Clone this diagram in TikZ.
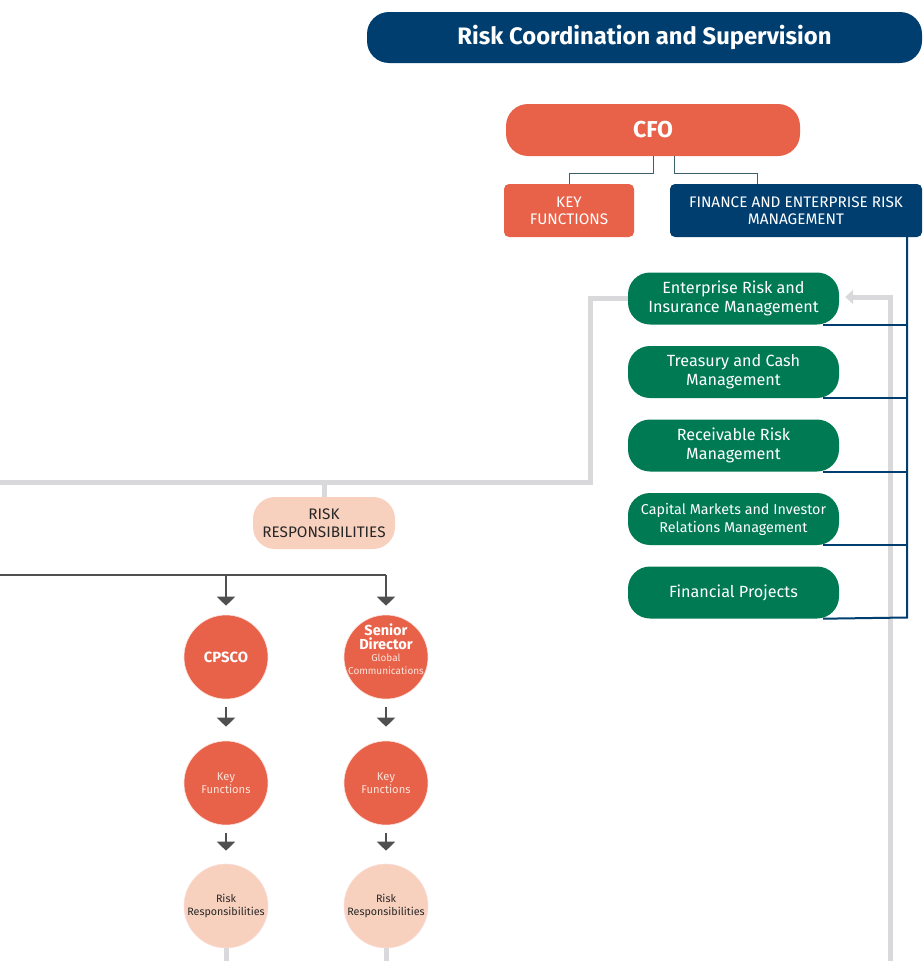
\documentclass[tikz,border=0pt]{standalone}
\usepackage{fontspec}
\setmainfont{Fira Sans}
\usetikzlibrary{arrows.meta}
\definecolor{navy}{RGB}{0,62,112}
\definecolor{corange}{RGB}{232,98,74}
\definecolor{cgreen}{RGB}{0,122,83}
\definecolor{peach}{RGB}{248,208,190}
\definecolor{lgray}{RGB}{217,217,219}
\definecolor{dgray}{RGB}{80,80,80}
\definecolor{tealline}{RGB}{60,95,105}
\definecolor{paletext}{RGB}{252,228,218}
\begin{document}
\begin{tikzpicture}[x=1pt,y=-1pt,
  rbox/.style={draw=none, inner sep=0pt, align=center, rounded corners=#1},
  titlebox/.style={rbox=22pt, fill=navy, text=white, minimum width=555pt, minimum height=51pt,
    font=\bfseries\fontsize{23.8}{28}\selectfont},
  cfobox/.style={rbox=22pt, fill=corange, text=white, minimum width=294pt, minimum height=52pt,
    font=\bfseries\fontsize{23}{28}\selectfont},
  smallbox/.style={rbox=5pt, minimum height=53pt, text=white, font=\fontsize{15.3}{17}\selectfont},
  greenbox/.style={rbox=22pt, fill=cgreen, text=white, minimum width=211pt, minimum height=52pt,
    font=\fontsize{16.2}{19}\selectfont},
  peachbox/.style={rbox=22pt, fill=peach, text=black!85, minimum width=142pt, minimum height=52pt,
    font=\fontsize{15.3}{18}\selectfont},
  circ/.style={circle, draw=white!80!corange, line width=0.6pt, minimum size=84pt, inner sep=0pt, align=center},
  ocirc/.style={circ, fill=corange},
  pcirc/.style={circ, fill=peach, text=black!85, font=\fontsize{10.7}{13}\selectfont},
  ctext/.style={inner sep=0pt, align=center},
  conn/.style={draw=tealline, line width=1pt},
  blueline/.style={draw=navy, line width=2pt},
  gline/.style={draw=lgray, line width=5pt},
  dline/.style={draw=dgray, line width=1.5pt},
  darr/.style={dline, -{Triangle[width=18pt,length=9pt]}}
]
\useasboundingbox (0,0) rectangle (922,961);

% boxes
\node[titlebox] (title) at (644.5,37.5) {Risk Coordination and Supervision};
\node[cfobox] (cfo) at (653,130) {CFO};
\node[smallbox, fill=corange, minimum width=130pt] (key) at (569,210.5) {KEY\\FUNCTIONS};
\node[smallbox, fill=navy, minimum width=252pt] (fin) at (796,210.5) {FINANCE AND ENTERPRISE RISK\\MANAGEMENT};

% gray lines (behind)
\draw[gline] (628,298) -- (590,298) -- (590,482) -- (0,482);
\node[peachbox] (rr) at (324,523) {RISK\\RESPONSIBILITIES};
\draw[gline] (rr.north) -- (rr.north |- 0,482);

\node[greenbox] (g1) at (733.5,298.5) {Enterprise Risk and\\Insurance Management};
\node[greenbox] (g2) at (733.5,372) {Treasury and Cash\\Management};
\node[greenbox] (g3) at (733.5,445.5) {Receivable Risk\\Management};
\node[greenbox, font=\fontsize{14.3}{18}\selectfont] (g4) at (733.5,519) {Capital Markets and Investor\\Relations Management};
\node[greenbox] (g5) at (733.5,592.5) {Financial Projects};

\draw[gline, -{Triangle[width=14pt,length=8pt]}] (890,961) -- (890,297) -- ([xshift=6pt]g1.east |- 0,297);

% CFO connectors
\draw[conn] (cfo.south -| 653,0) -- (653,173) -| (key.north);
\draw[conn] (cfo.south -| 674,0) -- (674,173) -| (key.north -| 757,0);

% blue connectors
\draw[blueline] (fin.south -| 907,0) -- (907,617.5) -- ([xshift=-16pt]g5.south east);
\foreach \g in {g1,g2,g3,g4}
  \draw[blueline] ([xshift=-16pt]\g.south east) -- (\g.south east -| 907,0);

% circles
\node[ocirc, text=white, font=\bfseries\fontsize{14.8}{17}\selectfont] (c1) at (226,657) {CPSCO};
\node[ocirc] (c2) at (386,657) {};
\node[ctext, text=white, font=\bfseries\fontsize{14.5}{14.5}\selectfont, anchor=south] (c2a) at ([yshift=7pt]c2.center) {Senior\\Director};
\node[ctext, text=paletext, font=\fontsize{10}{13}\selectfont, anchor=north] (c2b) at ([yshift=3pt]c2.center) {Global\\Communications};
\node[ocirc, text=paletext, font=\fontsize{11.2}{13}\selectfont] (k1) at (226,783) {Key\\Functions};
\node[ocirc, text=paletext, font=\fontsize{11.2}{13}\selectfont] (k2) at (386,783) {Key\\Functions};
\node[pcirc] (r1) at (226,906) {Risk\\Responsibilities};
\node[pcirc] (r2) at (386,906) {Risk\\Responsibilities};

% dark lines and arrows
\draw[dline] (0,575) -- (c2.north |- 0,575);
\draw[darr, shorten >=9pt] (c1.north |- 0,575) -- (c1.north);
\draw[darr, shorten >=9pt] (c2.north |- 0,575) -- (c2.north);
\draw[darr, shorten <=8pt, shorten >=14pt] (c1.south) -- (k1.north);
\draw[darr, shorten <=8pt, shorten >=14pt] (c2.south) -- (k2.north);
\draw[darr, shorten <=8pt, shorten >=13pt] (k1.south) -- (r1.north);
\draw[darr, shorten <=8pt, shorten >=13pt] (k2.south) -- (r2.north);

% gray lines from bottom circles
\draw[gline] (r1.south) -- (r1.south |- 0,961);
\draw[gline] (r2.south) -- (r2.south |- 0,961);
\end{tikzpicture}
\end{document}
